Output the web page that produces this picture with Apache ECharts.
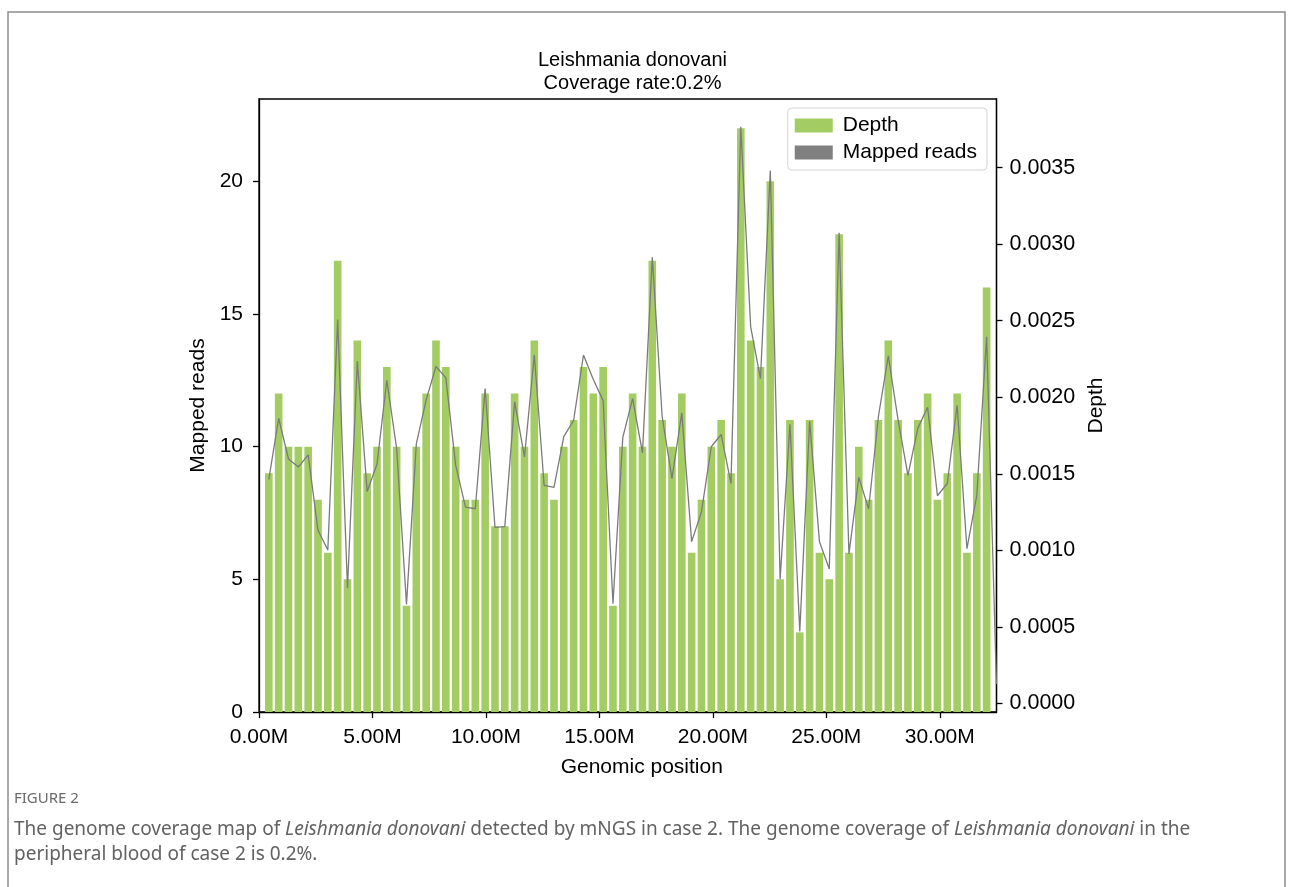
<!DOCTYPE html>
<html>
<head>
<meta charset="utf-8">
<script src="https://cdn.jsdelivr.net/npm/echarts@6/dist/echarts.min.js"></script>
<style>
  html, body { margin: 0; padding: 0; background: #ffffff; }
  #chart { width: 1293px; height: 887px; }
</style>
</head>
<body>
<div id="chart"></div>
<script>
// Mapped reads per genomic bin (left axis, drawn as bars)
const reads = [
  9, 12, 10, 10, 10, 8, 6, 17, 5, 14, 9, 10, 13, 10, 4, 10, 12, 14, 13, 10, 8, 8,
  12, 7, 7, 12, 10, 14, 9, 8, 10, 11, 13, 12, 13, 4, 10, 12, 10, 17, 11, 10, 12, 6, 8, 10, 11, 9,
  22, 14, 13, 20, 5, 11, 3, 11, 6, 5, 18, 6, 10, 8, 11, 14, 11, 9, 11, 12, 8, 9, 12, 6, 9, 16,
  0
];

// Sequencing depth per genomic bin (right axis, drawn as a line)
const depth = [
  0.001464, 0.001863, 0.001597, 0.001544, 0.001624, 0.001131, 0.001003, 0.002507, 0.000753, 0.002236, 0.001384,
  0.001562, 0.002111, 0.001664, 0.000647, 0.001695, 0.001983, 0.002201, 0.002127, 0.001557, 0.001283, 0.001272,
  0.002057, 0.001150, 0.001155, 0.001970, 0.001610, 0.002276, 0.001424, 0.001411, 0.001743, 0.001850, 0.002276,
  0.002116, 0.001978, 0.000652, 0.001738, 0.001991, 0.001637, 0.002914, 0.001876, 0.001469, 0.001898, 0.001057,
  0.001251, 0.001677, 0.001757, 0.001437,
  0.003766, 0.002462, 0.002121, 0.003481, 0.000812, 0.001823, 0.000471, 0.001844, 0.001057, 0.000878, 0.003074,
  0.000977, 0.001477, 0.001270, 0.001876, 0.002270, 0.001850, 0.001490, 0.001797, 0.001935, 0.001357, 0.001437,
  0.001948, 0.001011, 0.001357, 0.002395,
  0.000127
];

// Bin size along the genome, in Mb; each bin is plotted at its end coordinate
const binSizeM = 0.4333;
const positions = reads.map((_, i) => +((i + 1) * binSizeM).toFixed(4));

// Axis ranges and tick values
const genomeLengthM = 32.5;
const xTicks = [0, 5, 10, 15, 20, 25, 30];
const readsTicks = [0, 5, 10, 15, 20];
const depthTicks = [0, 0.0005, 0.001, 0.0015, 0.002, 0.0025, 0.003, 0.0035];
const readsRange = [0, 23.1];
const depthRange = [-0.0000555, 0.003948];

const FONT = '"Liberation Sans", Arial, sans-serif';
const CAPTION_FONT = '"Noto Sans", "Open Sans", sans-serif';
const BAR_COLOR = '#a3cc63';
const LINE_COLOR = '#7b7b7b';
const CAPTION_COLOR = '#626262';

const chart = echarts.init(document.getElementById('chart'), null, { renderer: 'canvas' });

const axisLineStyle = { color: '#000', width: 1.3 };
const tickStyle = { show: true, inside: false, length: 6, lineStyle: { color: '#000', width: 1.3 } };

chart.setOption({
  animation: false,
  backgroundColor: '#ffffff',
  title: {
    text: 'Leishmania donovani\nCoverage rate:0.2%',
    left: 627.5,
    top: 44,
    textAlign: 'center',
    textStyle: { fontFamily: FONT, fontSize: 20, fontWeight: 'normal', color: '#000', lineHeight: 23 }
  },
  legend: {
    orient: 'vertical',
    right: 306,
    top: 108,
    itemWidth: 38,
    itemHeight: 14,
    itemGap: 6,
    padding: [7, 10, 7, 7],
    borderColor: '#d4d4d4',
    borderWidth: 1,
    borderRadius: 4,
    backgroundColor: 'rgba(255,255,255,0.8)',
    textStyle: { fontFamily: FONT, fontSize: 21, color: '#000', lineHeight: 21, padding: [0, 0, 0, 5] },
    data: [
      { name: 'Depth', icon: 'rect' },
      { name: 'Mapped reads', icon: 'rect', itemStyle: { color: '#808080' } }
    ]
  },
  grid: {
    left: 259,
    right: 296.5,
    top: 99,
    bottom: 175,
    show: true,
    borderColor: '#000',
    borderWidth: 1.3,
    containLabel: false
  },
  xAxis: {
    type: 'value',
    min: 0,
    max: genomeLengthM,
    name: 'Genomic position',
    nameLocation: 'middle',
    nameGap: 45,
    nameTextStyle: { fontFamily: FONT, fontSize: 21, color: '#000', padding: [0, 0, 0, 28] },
    axisLine: { show: true, onZero: false, lineStyle: axisLineStyle },
    axisTick: Object.assign({ customValues: xTicks }, tickStyle),
    axisLabel: {
      customValues: xTicks,
      margin: 15,
      fontFamily: FONT,
      fontSize: 21,
      color: '#000',
      formatter: v => v.toFixed(2) + 'M'
    },
    splitLine: { show: false }
  },
  yAxis: [
    {
      type: 'value',
      position: 'left',
      min: readsRange[0],
      max: readsRange[1],
      name: 'Mapped reads',
      nameLocation: 'middle',
      nameGap: 36,
      nameRotate: 90,
      nameTextStyle: { fontFamily: FONT, fontSize: 21, color: '#000' },
      axisLine: { show: true, lineStyle: axisLineStyle },
      axisTick: Object.assign({ customValues: readsTicks }, tickStyle),
      axisLabel: {
        customValues: readsTicks,
        margin: 16,
        fontFamily: FONT,
        fontSize: 21,
        color: '#000'
      },
      splitLine: { show: false }
    },
    {
      type: 'value',
      position: 'right',
      min: depthRange[0],
      max: depthRange[1],
      name: 'Depth',
      nameLocation: 'middle',
      nameGap: 84,
      nameRotate: 90,
      nameTextStyle: { fontFamily: FONT, fontSize: 21, color: '#000' },
      axisLine: { show: true, lineStyle: axisLineStyle },
      axisTick: Object.assign({ customValues: depthTicks }, tickStyle),
      axisLabel: {
        customValues: depthTicks,
        margin: 13,
        fontFamily: FONT,
        fontSize: 21.5,
        color: '#000',
        formatter: v => v.toFixed(4)
      },
      splitLine: { show: false }
    }
  ],
  series: [
    {
      name: 'Depth',
      type: 'bar',
      xAxisIndex: 0,
      yAxisIndex: 0,
      barWidth: 7.6,
      clip: true,
      itemStyle: { color: BAR_COLOR },
      data: positions.map((x, i) => [x, reads[i]])
    },
    {
      name: 'Mapped reads',
      type: 'line',
      xAxisIndex: 0,
      yAxisIndex: 1,
      symbol: 'none',
      clip: true,
      z: 3,
      itemStyle: { color: '#808080' },
      lineStyle: { color: LINE_COLOR, width: 1.3 },
      data: positions.map((x, i) => [x, depth[i]])
    }
  ],
  graphic: [
    {
      type: 'rect',
      silent: true,
      shape: { x: 8, y: 12, width: 1277, height: 900 },
      style: { fill: 'none', stroke: '#8c8c8c', lineWidth: 1.5 }
    },
    {
      type: 'text',
      left: 14,
      top: 791,
      silent: true,
      style: {
        text: 'FIGURE 2',
        fill: '#6a6a6a',
        font: '15px ' + CAPTION_FONT
      }
    },
    {
      type: 'text',
      left: 14,
      top: 817,
      silent: true,
      style: {
        text: 'The genome coverage map of {i|Leishmania donovani} detected by mNGS in case 2. The genome coverage of {i|Leishmania donovani} in the\nperipheral blood of case 2 is 0.2%.',
        fill: CAPTION_COLOR,
        font: '19px ' + CAPTION_FONT,
        lineHeight: 25,
        rich: {
          i: { fontStyle: 'italic', fontFamily: CAPTION_FONT, fontSize: 19, fill: CAPTION_COLOR, lineHeight: 25 }
        }
      }
    }
  ]
});
</script>
</body>
</html>
